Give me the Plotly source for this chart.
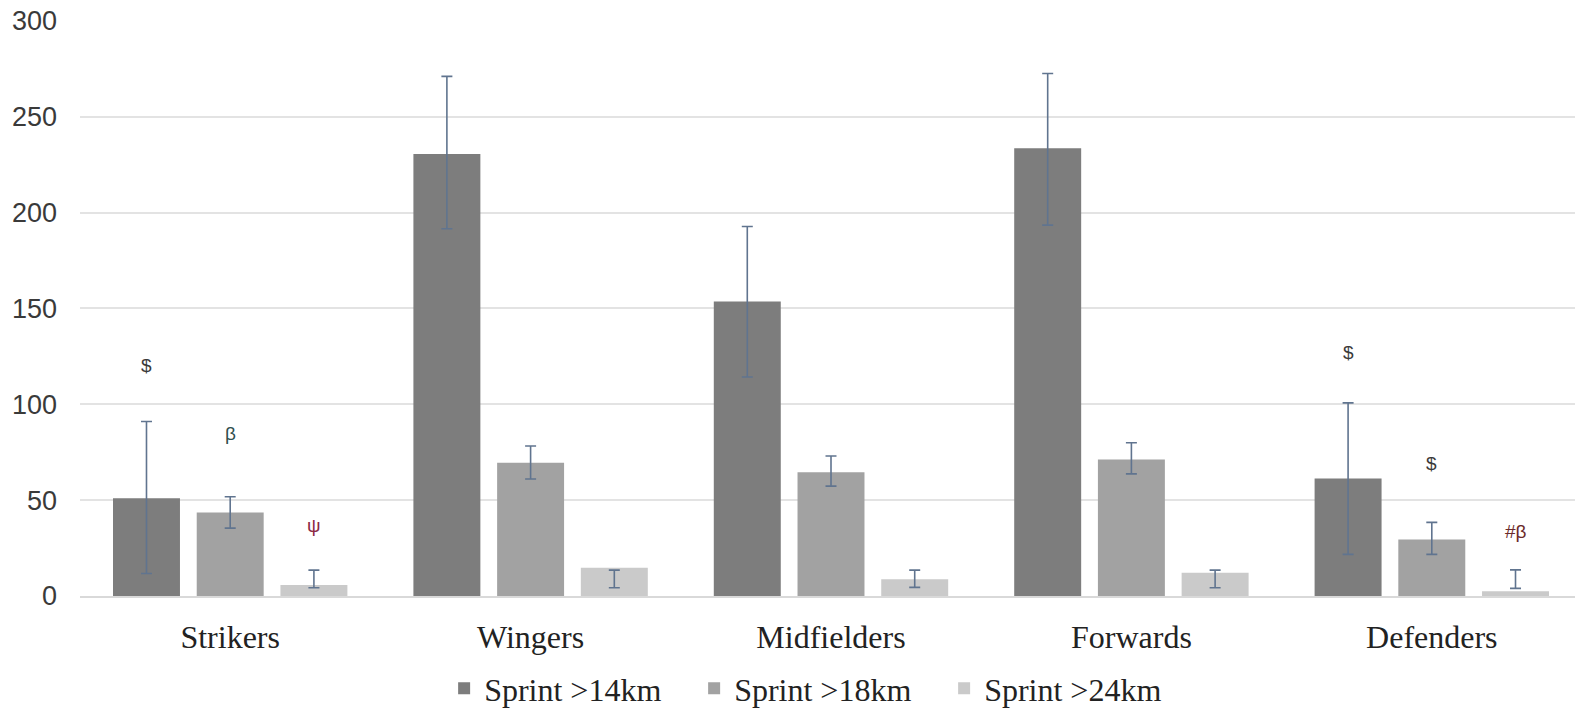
import plotly.graph_objects as go

categories = ["Strikers", "Wingers", "Midfielders", "Forwards", "Defenders"]
series_names = ["Sprint >14km", "Sprint >18km", "Sprint >24km"]

# bar heights
sprint14 = [51.0, 230.5, 153.6, 233.5, 61.3]
sprint18 = [43.5, 69.5, 64.5, 71.2, 29.5]
sprint24 = [5.7, 14.7, 8.8, 12.1, 2.5]

# error bar ends (low, high) as drawn
sprint14_low = [11.7, 191.5, 114.2, 193.4, 21.7]
sprint14_high = [91.0, 271.0, 192.7, 272.5, 100.7]
sprint18_low = [35.4, 61.0, 57.3, 63.7, 21.7]
sprint18_high = [51.8, 78.2, 73.0, 79.9, 38.4]
sprint24_low = [4.3, 4.3, 4.5, 4.3, 4.0]
sprint24_high = [13.5, 13.5, 13.5, 13.5, 13.6]

# significance marks: (category index, series index, y, text, colour)
marks = [
    (0, 0, 120, "$", "#3a3a3a"),
    (0, 1, 85, "β", "#2f4f4f"),
    (0, 2, 37, "ψ", "#8b2a45"),
    (4, 0, 127, "$", "#3a3a3a"),
    (4, 1, 69, "$", "#3a3a3a"),
    (4, 2, 33.5, "#β", "#6b2a2a"),
]

colors = ["#7d7d7d", "#a2a2a2", "#cacaca"]
values = [sprint14, sprint18, sprint24]
lows = [sprint14_low, sprint18_low, sprint24_low]
highs = [sprint14_high, sprint18_high, sprint24_high]

BARGAP = 0.164
fig = go.Figure()
for name, vals, lo, hi, col in zip(series_names, values, lows, highs, colors):
    fig.add_trace(go.Bar(
        x=categories, y=vals, name=name,
        marker=dict(color=col, line=dict(width=0)),
        error_y=dict(type="data", symmetric=False,
                     array=[h - v for h, v in zip(hi, vals)],
                     arrayminus=[v - l for l, v in zip(lo, vals)],
                     color="#60748f", thickness=1.6, width=5.5),
    ))

slot = (1 - BARGAP) / 3
for ci, si, yv, txt, col in marks:
    fig.add_annotation(x=ci + (si - 1) * slot, y=yv, xref="x", yref="y",
                       text=txt, showarrow=False,
                       font=dict(family="Liberation Sans, Arial", size=19, color=col))

fig.update_layout(
    width=1575, height=700,
    paper_bgcolor="white", plot_bgcolor="white",
    margin=dict(l=72, r=1, t=12, b=112, autoexpand=False),
    barmode="group", bargap=BARGAP, bargroupgap=0.2,
    showlegend=True,
    legend=dict(orientation="h", xref="container", yref="container",
                x=0.515, xanchor="center", y=0.028, yanchor="middle",
                font=dict(family="Liberation Serif, Times New Roman", size=32, color="#222222"),
                entrywidth=205, itemwidth=30, bgcolor="rgba(0,0,0,0)"),
    xaxis=dict(tickfont=dict(family="Liberation Serif, Times New Roman", size=32, color="#222222"),
               automargin=False, ticklabelstandoff=12,
               showline=True, linecolor="#d9d9d9", linewidth=1.5, ticks="", showgrid=False),
    yaxis=dict(range=[0, 300.4], tickvals=[0, 50, 100, 150, 200, 250, 300],
               showgrid=True, gridcolor="#e3e3e3", gridwidth=1.5,
               automargin=False, ticklabelstandoff=22, ticklabeloverflow="allow",
               zeroline=False, showline=False, ticks="", ticklen=0,
               tickfont=dict(family="Liberation Sans, Arial", size=27, color="#3a3a3a")),
)

fig.write_html("out.html")
